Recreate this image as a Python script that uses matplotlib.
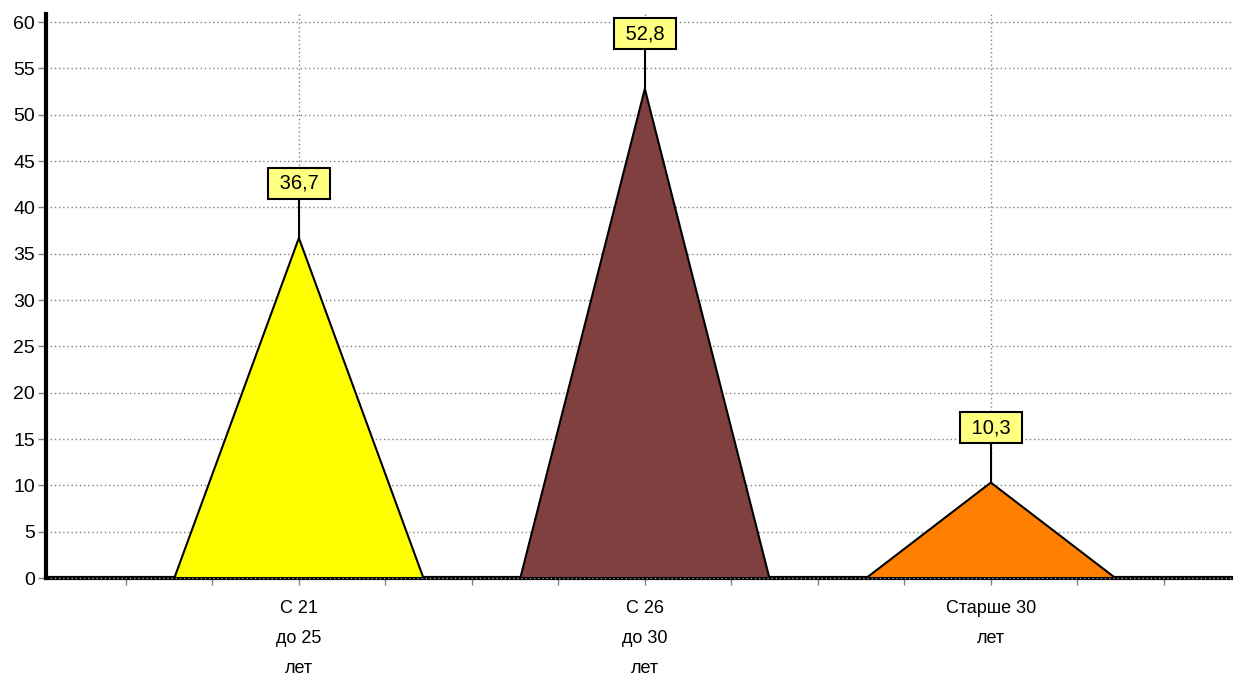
import matplotlib.pyplot as plt
from matplotlib.ticker import MultipleLocator

plt.rcParams['font.family'] = ['Liberation Sans Narrow', 'Liberation Sans', 'DejaVu Sans']

# data
categories = ['С 21\nдо 25\nлет', 'С 26\nдо 30\nлет', 'Старше 30\nлет']
values = [36.7, 52.8, 10.3]
value_labels = ['36,7', '52,8', '10,3']
colors = ['#ffff00', '#804040', '#ff8000']

half_width = 0.36
x = [1, 2, 3]

fig = plt.figure(figsize=(12.33, 6.75), dpi=100)
ax = fig.add_axes([0.0373, 0.1437, 0.9627, 0.8353])

# grid
ax.set_axisbelow(True)
ax.grid(axis='y', color='#808080', linestyle=(0, (1, 2)), linewidth=1)
ax.grid(axis='x', which='major', color='#808080', linestyle=(0, (1, 2)), linewidth=1)

# triangles
for xi, v, c in zip(x, values, colors):
    ax.fill([xi - half_width, xi, xi + half_width], [0, v, 0],
            facecolor=c, edgecolor='black', linewidth=1.5, zorder=3)

# value labels with leader lines
for xi, v, lab in zip(x, values, value_labels):
    ax.plot([xi, xi], [v, v + 4.2], color='black', linewidth=1.5, zorder=4)
    ax.text(xi, v + 4.9, ' ' + lab + ' ', ha='center', va='bottom', fontsize=14.5,
            zorder=5,
            bbox=dict(boxstyle='square,pad=0.3', facecolor='#ffff80',
                      edgecolor='black', linewidth=1.5))

ax.set_xlim(0.269, 3.70)
ax.set_ylim(0, 60.86)

ax.set_xticks(x)
ax.set_xticklabels(categories, fontsize=13, linespacing=2.0)
ax.xaxis.set_minor_locator(MultipleLocator(0.25))
ax.yaxis.set_major_locator(MultipleLocator(5))
ax.tick_params(axis='y', labelsize=14, length=6, width=1, color='#808080', pad=2)
ax.tick_params(axis='x', which='both', length=5, width=1, color='#808080', pad=11)

for s in ['top', 'right']:
    ax.spines[s].set_visible(False)
ax.spines['left'].set_linewidth(3)
ax.spines['left'].set_color('black')
ax.spines['bottom'].set_linewidth(3)
ax.spines['bottom'].set_color('black')
ax.spines['bottom'].set_zorder(2)
ax.plot([0.269, 3.70], [0, 0], color='#a0a0a0', linewidth=1,
        linestyle=(0, (1, 2)), clip_on=False, zorder=2.5)

fig.savefig('out.png', dpi=100)
